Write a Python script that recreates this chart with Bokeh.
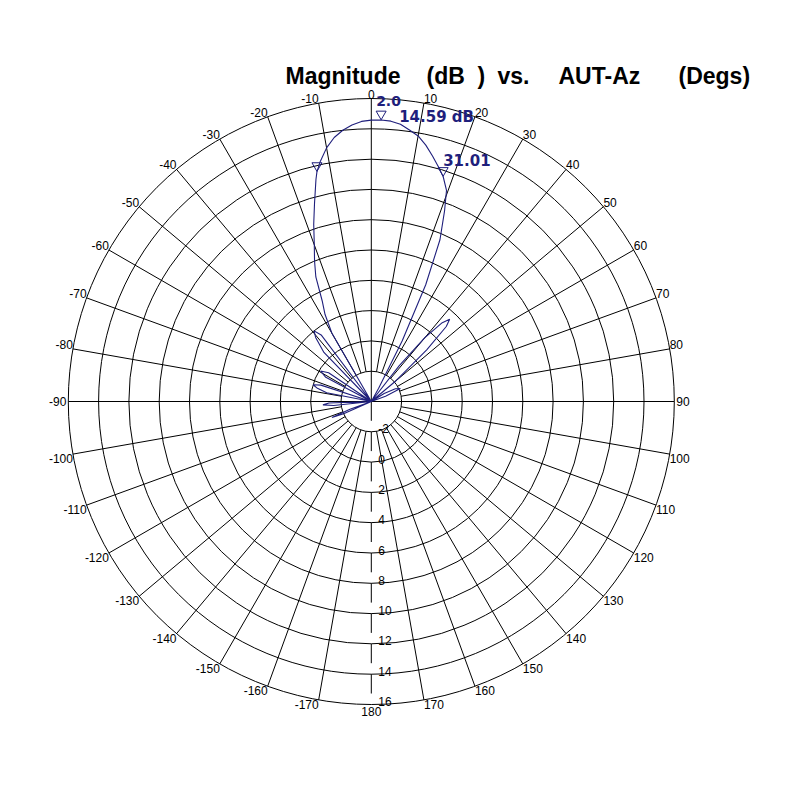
import numpy as np
from bokeh.plotting import figure
from bokeh.models import Range1d
from bokeh.embed import file_html
from bokeh.resources import INLINE
from bokeh.core.properties import value

# ---------------- data ----------------
db_min = -4
ring_db = [-2, 0, 2, 4, 6, 8, 10, 12, 14, 16]
spoke_deg = [-170, -160, -150, -140, -130, -120, -110, -100, -90, -80, -70, -60, -50, -40, -30, -20, -10,
             0, 10, 20, 30, 40, 50, 60, 70, 80, 90, 100, 110, 120, 130, 140, 150, 160, 170, 180]
spoke_labels = [str(a) for a in spoke_deg]

pattern_deg = [-180, -150, -125, -118, -114, -112, -110, -106, -100, -96, -94, -92, -89, -84,
               -79, -76, -74, -72, -69, -66, -62, -59, -56, -53, -48, -44, -41, -39, -37, -35,
               -32, -30, -28, -26, -24, -22, -20, -18, -16, -14, -13.3, -12, -10, -8, -6, -4,
               -2, 0, 2, 4, 6, 8, 10, 12, 14, 16, 17.71, 19.6, 21, 23, 25, 27, 29, 31, 35, 38,
               40, 42, 43.6, 45, 47, 50, 54, 58, 62, 66, 70, 74, 80, 90, 120, 150, 180]
pattern_db = [-12, -12, -10, -6, -2.0, -1.2, -2.5, -8, -6, -1.5, -0.8, -1.2, -7, -6,
              -1.0, -0.3, 0.0, -0.5, -6, -6, -0.6, -0.1, -0.6, -6, -6, 0.5, 1.6, 2.0, 1.5, -6,
              -6, 1.2, 2.5, 3.4, 5.0, 6.0, 7.0, 8.3, 9.6, 11.1, 11.59, 12.2, 13.0, 13.6, 14.0, 14.3,
              14.5, 14.57, 14.59, 14.55, 14.4, 14.1, 13.8, 13.3, 12.7, 12.1, 11.59, 10.8, 9.5, 7.6, 4.5, 0.5, -3, -8, -6, -1,
              1.5, 3.0, 3.5, 3.0, 1.0, -2, -4.5, -3, -2.2, -1.9, -3, -8, -6, -12, -12, -12, -12]

peak_deg = 2.0
peak_db = 14.59
hp_db = 11.59
hp_left_deg = -13.3
hp_right_deg = 17.71
beamwidth = 31.01

title_words = ["Magnitude", "(dB", ")", "vs.", "AUT-Az", "(Degs)"]
title_px = [285, 426, 477, 497, 558, 678]

# ---------------- geometry ----------------
W = H = 790
S = 303.0 / 20.0           # px per dB unit
CX, CY = 370.8, 401.0      # canvas px of pole
NAVY = "#1f1f7c"


def polar(deg, db):
    th = np.radians(np.asarray(deg, dtype=float))
    r = np.clip(np.asarray(db, dtype=float) - db_min, 0, None)
    return r * np.sin(th), r * np.cos(th)


def px2d(px, py):
    return (px - CX) / S, (CY - py) / S


p = figure(width=W, height=H, output_backend="svg", toolbar_location=None,
           x_range=Range1d(-CX / S, (W - CX) / S), y_range=Range1d(-(H - CY) / S, CY / S),
           min_border=0, x_axis_location=None, y_axis_location=None)
p.grid.visible = False
p.outline_line_color = None
p.background_fill_color = "white"
p.border_fill_color = "white"

r_out = ring_db[-1] - db_min
ring_r = [d - db_min for d in ring_db]

# rings
p.circle(x=[0] * len(ring_r), y=[0] * len(ring_r), radius=ring_r,
         fill_color=None, line_color="black", line_width=1)

# spokes (from inner ring to outer ring)
sp = [a for a in spoke_deg if a not in (0, 90, -90, 180)]
x0, y0 = polar(sp, [ring_db[0]] * len(sp))
x1, y1 = polar(sp, [ring_db[-1]] * len(sp))
p.segment(x0=x0, y0=y0, x1=x1, y1=y1, line_color="black", line_width=1)

# main axes through the pole
p.segment(x0=[-r_out, 0], y0=[0, 0], x1=[r_out, 0], y1=[0, r_out], line_color="black", line_width=1)
gap = 11.0 / S
starts = [0] + ring_r[:-1]
p.segment(x0=[0] * len(ring_r), y0=[-s for s in starts], x1=[0] * len(ring_r),
          y1=[-(r - gap) for r in ring_r], line_color="black", line_width=1)

# ring labels
p.text(x=[0] * len(ring_r), y=[-r for r in ring_r], text=[str(d) for d in ring_db],
       x_offset=7, y_offset=-3, text_align="left", text_baseline="alphabetic",
       text_font=value("Liberation Sans"), text_font_size="12px", text_color="black")

# angle labels
groups = {}
for a, lab in zip(spoke_deg, spoke_labels):
    if a == 0:
        key = ("center", "bottom", 0, 0)
    elif a == 180:
        key = ("center", "top", 0, 2)
    elif a == 90:
        key = ("left", "middle", 2, 0)
    elif a == -90:
        key = ("right", "middle", -2, 0)
    elif 0 < a < 90:
        key = ("left", "bottom", 0, 0)
    elif a > 90:
        key = ("left", "top", 0, 0)
    elif -90 < a < 0:
        key = ("right", "bottom", 0, 0)
    else:
        key = ("right", "top", 0, 0)
    groups.setdefault(key, []).append((a, lab))
for (al, bl, xo, yo), items in groups.items():
    ang = [i[0] for i in items]
    xs, ys = polar(ang, [ring_db[-1]] * len(ang))
    p.text(x=xs, y=ys, text=[i[1] for i in items], text_align=al, text_baseline=bl,
           x_offset=xo, y_offset=yo, text_font=value("Liberation Sans"),
           text_font_size="12px", text_color="black")

# pattern
px_, py_ = polar(pattern_deg, pattern_db)
p.line(px_, py_, line_color=NAVY, line_width=1.1)

# markers
mdeg = [peak_deg, hp_left_deg, hp_right_deg]
mdb = [peak_db, hp_db, hp_db]
mx, my = polar(mdeg, mdb)
p.scatter(mx, my + 6.0 / S, marker="inverted_triangle", size=10, fill_color=None,
          line_color=NAVY, line_width=1)

# annotation texts
ann_font = value("DejaVu Sans")
p.text(x=[mx[0]], y=[my[0]], text=[f"{peak_deg:.1f}"], x_offset=-5, y_offset=-19,
       text_align="left", text_baseline="middle", text_font=ann_font, text_font_style="bold",
       text_font_size="14px", text_color=NAVY)
p.text(x=[mx[0]], y=[my[0]], text=[f"{peak_db:.2f} dB"], x_offset=18, y_offset=-3,
       text_align="left", text_baseline="middle", text_font=ann_font, text_font_style="bold",
       text_font_size="15px", text_color=NAVY)
p.text(x=[mx[2]], y=[my[2]], text=[f"{beamwidth:.2f}"], x_offset=0, y_offset=-17,
       text_align="left", text_baseline="middle", text_font=ann_font, text_font_style="bold",
       text_font_size="15px", text_color=NAVY)

# title
tx = [px2d(x, 75)[0] for x in title_px]
ty = [px2d(0, 75)[1]] * len(title_px)
p.text(x=tx, y=ty, text=title_words, text_align="left", text_baseline="alphabetic",
       text_font=value("Liberation Sans"), text_font_style="bold", text_font_size="23px",
       text_color="black")

open("out.html", "w").write(file_html(p, INLINE))
